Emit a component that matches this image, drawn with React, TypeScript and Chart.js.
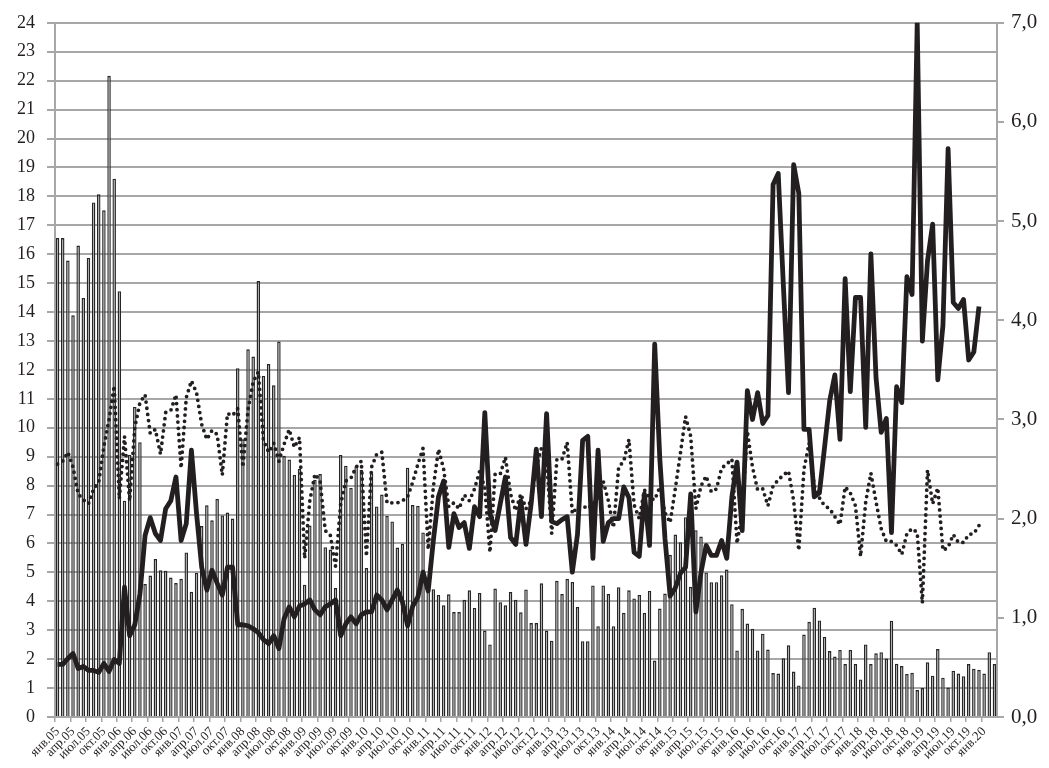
import React, { useEffect, useRef } from "react";
import { Chart, registerables } from "chart.js";

Chart.register(...registerables);

const MONTH_NAMES = ["янв", "фев", "мар", "апр", "май", "июн", "июл", "авг", "сен", "окт", "ноя", "дек"];
const START_YEAR = 2005;
const N_MONTHS = 183;
const categories: string[] = Array.from({ length: N_MONTHS }, (_, i) =>
  `${MONTH_NAMES[i % 12]}.${String((START_YEAR + Math.floor(i / 12)) % 100).padStart(2, "0")}`
);

// bars, left axis
const barValues = [
  16.56, 16.56, 15.78, 13.89, 16.3, 14.49, 15.87, 17.79, 18.07, 17.52, 22.17, 18.61, // 2005
  14.72, 7.48, 9.07, 10.72, 9.5, 4.6, 4.89, 5.46, 5.07, 5.06, 4.82, 4.63, // 2006
  4.78, 5.69, 4.33, 4.98, 6.6, 7.32, 6.8, 7.54, 6.97, 7.07, 6.86, 12.06, // 2007
  9.6, 12.71, 12.46, 15.07, 11.79, 12.2, 11.47, 12.98, 9.03, 8.9, 8.37, 8.57, // 2008
  4.57, 6.62, 8.2, 8.4, 5.87, 5.79, 4.46, 9.06, 8.69, 7.92, 8.67, 8.54, // 2009
  5.15, 8.43, 7.28, 7.69, 6.95, 6.76, 5.86, 5.99, 8.62, 7.33, 7.3, 6.38, // 2010
  4.6, 4.42, 4.22, 3.86, 4.24, 3.63, 3.63, 4.05, 4.38, 3.77, 4.29, 2.99, // 2011
  2.51, 4.44, 3.97, 3.86, 4.32, 4.05, 3.62, 4.41, 3.25, 3.25, 4.62, 2.99, // 2012
  2.64, 4.71, 4.25, 4.78, 4.67, 3.8, 2.62, 2.62, 4.55, 3.14, 4.55, 4.25, // 2013
  3.14, 4.49, 3.6, 4.38, 4.1, 4.22, 3.6, 4.36, 1.95, 3.75, 4.27, 5.61, // 2014
  6.31, 6.04, 6.91, 4.5, 6.46, 6.24, 5.0, 4.66, 4.66, 4.9, 5.1, 3.9, // 2015
  2.3, 3.74, 3.23, 3.05, 2.3, 2.88, 2.33, 1.52, 1.5, 2.03, 2.48, 1.57, // 2016
  1.09, 2.85, 3.29, 3.78, 3.34, 2.77, 2.28, 2.09, 2.32, 1.83, 2.32, 1.83, // 2017
  1.3, 2.51, 1.83, 2.2, 2.24, 2.02, 3.33, 1.84, 1.76, 1.49, 1.53, 0.93, // 2018
  1.0, 1.89, 1.43, 2.35, 1.36, 1.02, 1.6, 1.5, 1.41, 1.83, 1.67, 1.63, // 2019
  1.5, 2.24, 1.83, // 2020
];

// solid line, right axis
const solidValues = [
  0.53, 0.53, 0.59, 0.64, 0.49, 0.51, 0.47, 0.47, 0.45, 0.54, 0.46, 0.58,
  0.54, 1.31, 0.82, 0.93, 1.24, 1.83, 2.01, 1.85, 1.78, 2.1, 2.18, 2.42,
  1.78, 1.95, 2.69, 2.05, 1.51, 1.28, 1.48, 1.35, 1.23, 1.51, 1.51, 0.93,
  0.93, 0.92, 0.89, 0.85, 0.78, 0.74, 0.82, 0.69, 0.99, 1.11, 1.01, 1.12,
  1.14, 1.18, 1.08, 1.03, 1.11, 1.14, 1.18, 0.82, 0.94, 1.01, 0.94, 1.03,
  1.06, 1.06, 1.23, 1.18, 1.08, 1.18, 1.28, 1.16, 0.92, 1.12, 1.21, 1.46,
  1.27, 1.78, 2.22, 2.38, 1.71, 2.05, 1.91, 1.96, 1.7, 2.12, 2.02, 3.07,
  2.05, 1.88, 2.15, 2.42, 1.81, 1.74, 2.18, 1.74, 2.15, 2.7, 2.02, 3.06,
  1.97, 1.95, 1.99, 2.02, 1.46, 1.84, 2.79, 2.83, 1.6, 2.69, 1.77, 1.96,
  2.0, 2.0, 2.32, 2.21, 1.66, 1.62, 2.25, 1.73, 3.76, 2.6, 1.8, 1.22,
  1.3, 1.45, 1.51, 2.25, 1.06, 1.46, 1.73, 1.63, 1.63, 1.78, 1.6, 2.22,
  2.57, 1.88, 3.29, 3.0, 3.27, 2.96, 3.04, 5.37, 5.48, 4.35, 3.27, 5.57,
  5.28, 2.9, 2.9, 2.22, 2.26, 2.72, 3.19, 3.45, 2.8, 4.42, 3.28, 4.23,
  4.23, 2.92, 4.67, 3.42, 2.87, 3.01, 1.86, 3.33, 3.17, 4.44, 4.26, 7.0,
  3.79, 4.6, 4.97, 3.4, 3.95, 5.73, 4.18, 4.12, 4.21, 3.6, 3.68, 4.14,
  null, null, null,
];

// dotted line, right axis
const dottedValues = [
  2.55, 2.58, 2.67, 2.52, 2.25, 2.19, 2.15, 2.3, 2.37, 2.73, 3.0, 3.34,
  2.2, 2.83, 2.18, 2.92, 3.17, 3.25, 2.86, 2.9, 2.65, 3.07, 3.09, 3.25,
  2.51, 3.22, 3.39, 3.27, 2.95, 2.8, 2.89, 2.85, 2.44, 3.06, 3.04, 3.11,
  2.52, 3.1, 3.38, 3.48, 2.79, 2.67, 2.76, 2.58, 2.75, 2.9, 2.72, 2.82,
  1.6, 2.18, 2.45, 2.38, 1.88, 1.83, 1.52, 2.15, 2.38, 2.41, 2.52, 2.58,
  1.62, 2.52, 2.65, 2.67, 2.16, 2.16, 2.16, 2.18, 2.22, 2.37, 2.55, 2.71,
  1.69, 2.32, 2.7, 2.5, 2.12, 2.16, 2.1, 2.24, 2.18, 2.3, 2.48, 2.31,
  1.66, 2.45, 2.45, 2.62, 2.25, 2.08, 2.25, 2.1, 2.18, 2.52, 2.71, 2.59,
  1.85, 2.6, 2.6, 2.77, 2.05, 2.12, 2.13, 2.1, 2.15, 2.2, 2.38, 2.18,
  1.91, 2.52, 2.58, 2.8, 2.14, 2.0, 2.29, 2.21, 2.19, 2.32, 2.06, 1.96,
  2.3, 2.66, 3.03, 2.83, 2.1, 2.33, 2.43, 2.27, 2.3, 2.51, 2.55, 2.6,
  1.75, 2.07, 2.88, 2.52, 2.29, 2.3, 2.13, 2.33, 2.39, 2.44, 2.48, 2.18,
  1.68, 2.5, 2.76, 2.33, 2.21, 2.13, 2.1, 2.02, 1.94, 2.32, 2.26, 2.13,
  1.62, 2.17, 2.46, 2.17, 1.9, 1.77, 1.77, 1.73, 1.64, 1.85, 1.9, 1.86,
  1.15, 2.49, 2.15, 2.31, 1.68, 1.71, 1.84, 1.76, 1.76, 1.84, 1.85, 1.93,
  null, null, null,
];

const LEFT_MAX = 24;
const RIGHT_MAX = 7;

const FONT = '"Liberation Serif", "DejaVu Serif", serif';
const INK = "#231f20";
const GRID = "#a7a7a7";

export default function App() {
  const canvasRef = useRef<HTMLCanvasElement | null>(null);

  useEffect(() => {
    document.body.style.margin = "0";
    const canvas = canvasRef.current;
    if (!canvas) return;
    const chart = new Chart(canvas, {
      type: "bar",
      data: {
        labels: categories,
        datasets: [
          {
            type: "line",
            data: solidValues,
            yAxisID: "y1",
            borderColor: INK,
            borderWidth: 4.8,
            pointRadius: 0,
            tension: 0,
            borderJoinStyle: "round",
            order: 0,
          } as any,
          {
            type: "line",
            data: dottedValues,
            yAxisID: "y1",
            borderColor: INK,
            borderWidth: 3.8,
            borderDash: [0, 6.2],
            borderCapStyle: "round",
            pointRadius: 0,
            tension: 0,
            order: 1,
          } as any,
          {
            type: "bar",
            data: barValues,
            yAxisID: "y",
            backgroundColor: "#a9a9a9",
            borderColor: "#262626",
            borderWidth: 1.4,
            barPercentage: 0.68,
            categoryPercentage: 1,
            order: 2,
          } as any,
        ],
      },
      options: {
        animation: false,
        responsive: true,
        maintainAspectRatio: false,
        layout: { padding: { top: 21, left: 0, right: 0, bottom: 0 } },
        plugins: { legend: { display: false }, tooltip: { enabled: false } },
        scales: {
          x: {
            type: "category",
            offset: true,
            grid: {
              display: true,
              offset: true,
              drawOnChartArea: false,
              drawTicks: true,
              tickLength: 5,
              lineWidth: 1.5,
              tickColor: (ctx: any) => (ctx.index % 3 === 0 ? GRID : "rgba(0,0,0,0)"),
            },
            border: { display: true, color: GRID, width: 2 },
            ticks: {
              autoSkip: false,
              minRotation: 45,
              maxRotation: 45,
              padding: 2,
              color: INK,
              font: { family: FONT, size: 13 },
              callback: (_v: any, i: number) => (i % 3 === 0 ? categories[i] : ""),
            },
            afterFit: (s: any) => {
              s.height = 51;
            },
          },
          y: {
            position: "left",
            min: 0,
            max: LEFT_MAX,
            ticks: {
              stepSize: 1,
              color: INK,
              padding: 12,
              font: { family: FONT, size: 18 },
            },
            grid: { color: GRID, lineWidth: 2, tickLength: 8 },
            border: { display: true, color: GRID, width: 2 },
            afterFit: (s: any) => {
              s.width = 55;
            },
          },
          y1: {
            position: "right",
            min: 0,
            max: RIGHT_MAX,
            ticks: {
              stepSize: 1,
              color: INK,
              padding: 7,
              font: { family: FONT, size: 21 },
              callback: (v: any) => Number(v).toFixed(1).replace(".", ","),
            },
            grid: { drawOnChartArea: false, color: GRID, lineWidth: 2, tickLength: 7 },
            border: { display: true, color: GRID, width: 2 },
            afterFit: (s: any) => {
              s.width = 52;
            },
          },
        },
      },
    });
    return () => chart.destroy();
  }, []);

  return (
    <div style={{ position: "absolute", left: 0, top: 0, width: 1049, height: 768 }}>
      <canvas ref={canvasRef} />
    </div>
  );
}
